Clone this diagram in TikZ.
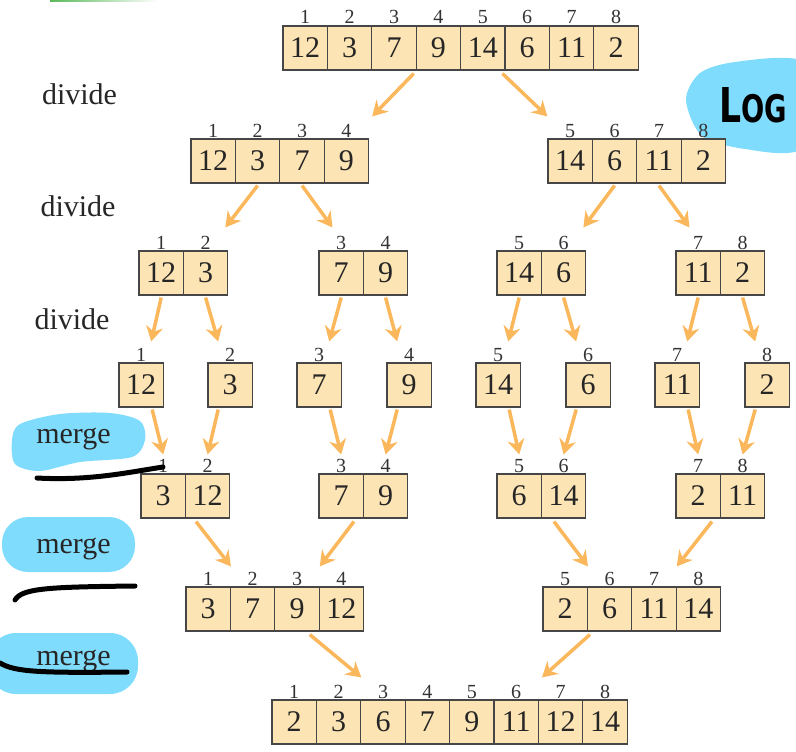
\documentclass[tikz,border=0pt]{standalone}
\usepackage{fontspec}
\setmainfont{Liberation Serif}
\newfontfamily\handfont{DejaVu Sans}
\usetikzlibrary{arrows.meta,calc}
\definecolor{cellfill}{RGB}{253,228,180}
\definecolor{celldraw}{RGB}{70,70,70}
\definecolor{arrc}{RGB}{251,183,92}
\definecolor{hiblue}{RGB}{128,220,252}
\definecolor{pengreen}{RGB}{90,185,90}
\tikzset{
  cellbox/.style={draw=celldraw, fill=cellfill, line width=1.1pt, minimum width=44.4pt, minimum height=44pt, inner sep=0pt, font=\fontsize{30}{30}\selectfont, text=black!85},
  idxlabel/.style={anchor=base, inner sep=0pt, font=\fontsize{20}{20}\selectfont, text=black!80},
  arr/.style={draw=arrc, line width=3.5pt, -{Stealth[length=15pt,width=17pt,inset=5pt]}},
  sidelabel/.style={anchor=base, inner sep=0pt, font=\fontsize{30}{30}\selectfont, text=black!85},
  blob/.style={fill=hiblue},
  pen/.style={draw=black, line width=5pt, line cap=round},
}
\newcommand\cellrow[5]{%
  \foreach \v [count=\i from 0] in {#5} {
    \pgfmathtruncatemacro\idx{#4+\i}
    \node[cellbox] (#1-\i) at ({#2+(\i+0.5)*44.4},{#3+22}) {\v};
    \node[idxlabel] (#1-l\i) at ({#2+(\i+0.5)*44.4},{#3-2}) {\idx};
  }
}
\begin{document}
\begin{tikzpicture}[x=1pt,y=-1pt]
\useasboundingbox (0,0) rectangle (796,752);
\clip (0,0) rectangle (796,752);
% highlighter blobs (behind)
\fill[blob] plot[smooth cycle] coordinates {(20,424) (60,414) (110,413) (140,421) (145,440) (132,457) (80,462) (40,471) (15,464) (12,440)};
\fill[blob, rounded corners=26pt] (2,517) rectangle (135,572);
\fill[blob, rounded corners=28pt] (-12,633) rectangle (138,694);
\fill[blob] plot[smooth cycle] coordinates {(686,100) (700,73) (735,62) (800,60) (840,100) (800,150) (745,149) (702,136)};
\shade[left color=pengreen, right color=white] (50,-2) rectangle (158,2);
% arrays
\cellrow{A}{283}{26}{1}{12,3,7,9,14,6,11,2}
\cellrow{B}{191}{139}{1}{12,3,7,9}
\cellrow{C}{548}{139}{5}{14,6,11,2}
\cellrow{D1}{139}{251}{1}{12,3}
\cellrow{D2}{319}{251}{3}{7,9}
\cellrow{D3}{497}{251}{5}{14,6}
\cellrow{D4}{676}{251}{7}{11,2}
\cellrow{E1}{119}{363}{1}{12}
\cellrow{E2}{208}{363}{2}{3}
\cellrow{E3}{297}{363}{3}{7}
\cellrow{E4}{387}{363}{4}{9}
\cellrow{E5}{476}{363}{5}{14}
\cellrow{E6}{566}{363}{6}{6}
\cellrow{E7}{655}{363}{7}{11}
\cellrow{E8}{745}{363}{8}{2}
\cellrow{F1}{141}{474}{1}{3,12}
\cellrow{F2}{319}{474}{3}{7,9}
\cellrow{F3}{497}{474}{5}{6,14}
\cellrow{F4}{676}{474}{7}{2,11}
\cellrow{G1}{186}{587}{1}{3,7,9,12}
\cellrow{G2}{543}{587}{5}{2,6,11,14}
\cellrow{H}{272}{700}{1}{2,3,6,7,9,11,12,14}
% arrows: divide
\draw[arr] ($(A-3.south west)+(-2,3)$) -- ($(B-3.north east)+(3,-22)$);
\draw[arr] ($(A-5.south west)+(-2,3)$) -- ($(C-0.north west)+(0,-22)$);
\draw[arr] ($(B-1.south)+(0,2)$) -- ($(D1-1.north east)+(-3,-23)$);
\draw[arr] ($(B-2.south)+(0,2)$) -- ($(D2-0.north west)+(14,-23)$);
\draw[arr] ($(C-1.south)+(0,2)$) -- ($(D3-1.north east)+(-3,-23)$);
\draw[arr] ($(C-2.south)+(0,2)$) -- ($(D4-0.north west)+(14,-23)$);
\foreach \k/\l/\r in {1/1/2,2/3/4,3/5/6,4/7/8} {
  \draw[arr] ($(D\k-0.south)+(0,2)$) -- ($(E\l-0.north)+(10,-21)$);
  \draw[arr] ($(D\k-1.south)+(0,2)$) -- ($(E\r-0.north)+(-12,-21)$);
  \draw[arr] ($(E\l-0.south)+(11,2)$) -- ($(F\k-0.north)+(0,-19)$);
  \draw[arr] ($(E\r-0.south)+(-12,2)$) -- ($(F\k-1.north)+(0,-19)$);
}
% arrows: merge
\draw[arr] ($(F1-0.south east)+(10,3)$) -- ($(G1-0.north east)+(0,-20)$);
\draw[arr] ($(F2-0.south east)+(-10,3)$) -- ($(G1-2.north east)+(0,-20)$);
\draw[arr] ($(F3-0.south east)+(12,3)$) -- ($(G2-0.north east)+(0,-20)$);
\draw[arr] ($(F4-0.south east)+(-9,3)$) -- ($(G2-2.north east)+(0,-20)$);
\draw[arr] ($(G1-2.south east)+(-10,3)$) -- ($(H-1.north east)+(0,-22)$);
\draw[arr] ($(G2-0.south east)+(2,3)$) -- ($(H-5.north east)+(3,-22)$);
% side labels
\node[sidelabel] (dv1) at (79.5,105) {divide};
\node[sidelabel] (dv2) at (78,216) {divide};
\node[sidelabel] (dv3) at (72,329) {divide};
\node[sidelabel] (mg1) at (73.5,443) {merge};
\node[sidelabel] (mg2) at (73.5,553) {merge};
\node[sidelabel] (mg3) at (73.5,665) {merge};
% pen strokes
\draw[pen] (37,478) .. controls (90,481) and (130,472) .. (163,467);
\draw[pen] (15,600) .. controls (22,588) and (50,587) .. (135,586);
\draw[pen] (0,663) .. controls (15,672) and (40,673) .. (127,672);
\node[anchor=base west, inner sep=0pt, text=black] (logtxt) at (719,123) {\handfont\bfseries\scalebox{0.72}[1]{\fontsize{48}{48}\selectfont L\fontsize{38}{38}\selectfont OG}};
\end{tikzpicture}
\end{document}
